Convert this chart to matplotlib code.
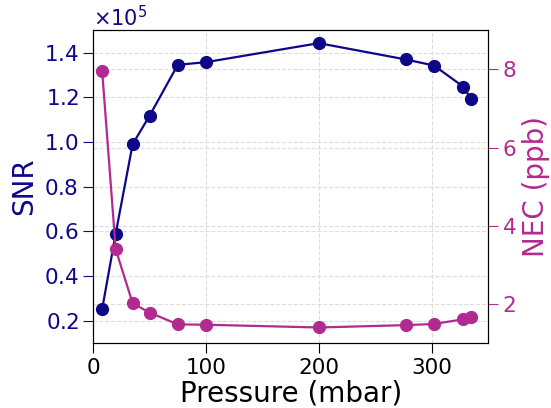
import numpy as np
import matplotlib.pyplot as plt
from matplotlib.transforms import blended_transform_factory

# pressure (mbar)
pressure = [8, 20, 35, 50, 75, 100, 200, 277, 302, 328, 335]
# signal to noise ratio
snr = [0.252e5, 0.59e5, 0.99e5, 1.117e5, 1.345e5, 1.357e5, 1.442e5, 1.369e5, 1.342e5, 1.247e5, 1.19e5]
# noise equivalent concentration (ppb)
nec = [7.96, 3.40, 2.02, 1.78, 1.48, 1.47, 1.40, 1.46, 1.49, 1.61, 1.68]
nec_ticks = [2, 4, 6, 8]

c_snr = '#0d0887'
c_nec = '#b12a90'

fig = plt.figure(figsize=(5.51, 4.08), dpi=100)
ax = fig.add_axes([0.169, 0.159, 0.717, 0.767])
ax2 = ax.twinx()

ax.plot(pressure, snr, '-o', color=c_snr, lw=1.6, ms=8.5, zorder=3)
ax2.plot(pressure, nec, '-o', color=c_nec, lw=1.6, ms=8.5, zorder=3)

ax.set_xlim(0, 350)
ax.set_ylim(0.1e5, 1.5e5)
ax2.set_ylim(1, 9)
ax.set_xticks([0, 100, 200, 300])
ax.set_yticks([0.2e5, 0.4e5, 0.6e5, 0.8e5, 1.0e5, 1.2e5, 1.4e5])
ax2.set_yticks(nec_ticks)

ax.ticklabel_format(axis='y', style='sci', scilimits=(5, 5), useMathText=True)
ax.yaxis.get_offset_text().set_fontsize(15)
ax.yaxis.get_offset_text().set_color(c_snr)

ax.set_xlabel('Pressure (mbar)', fontsize=20, labelpad=1)
ax.set_ylabel('SNR', fontsize=20, color=c_snr)
ax2.set_ylabel('NEC (ppb)', fontsize=20, color=c_nec)

ax.tick_params(axis='x', labelsize=15.5, length=7)
ax.tick_params(axis='y', labelsize=15.5, length=7, colors=c_snr)
ax2.tick_params(axis='y', labelsize=15.5, length=7, colors=c_nec)
for s in ax2.spines.values():
    s.set_color('black')

# grid behind both curves (right-axis lines drawn in the lower axes)
ax.grid(True, ls='--', color='#dddddd', lw=0.8, zorder=0)
ax.set_axisbelow(True)
tr = blended_transform_factory(ax.transAxes, ax2.transData)
for t in nec_ticks:
    ax.plot([0, 1], [t, t], transform=tr, ls='--', color='#dddddd', lw=0.8, zorder=0)

fig.savefig('out.png', dpi=100)
